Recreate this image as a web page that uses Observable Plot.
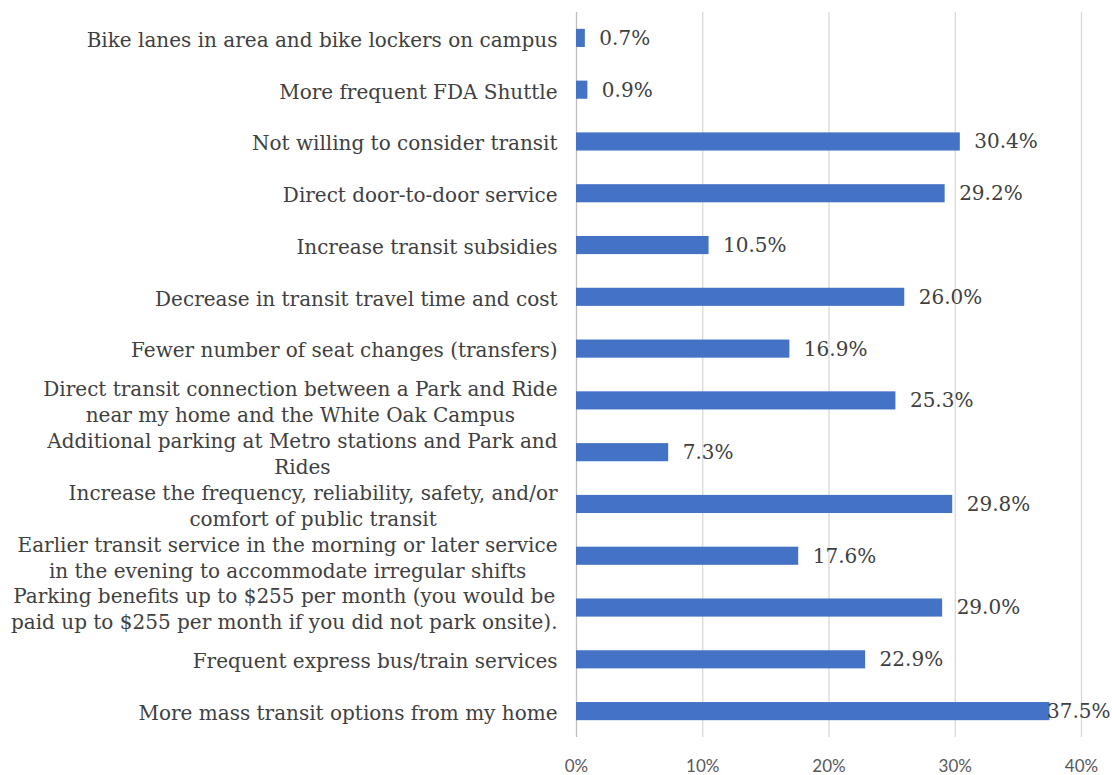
<!DOCTYPE html>
<html>
<head>
<meta charset="utf-8">
<script src="https://cdn.jsdelivr.net/npm/d3@7"></script>
<script src="https://cdn.jsdelivr.net/npm/@observablehq/plot@0.6"></script>
<style>
  html, body { margin: 0; padding: 0; background: #fff; }
  #chart svg { display: block; }
</style>
</head>
<body>
<div id="chart"></div>
<script>
const categories = [
  "Bike lanes in area and bike lockers on campus",
  "More frequent FDA Shuttle",
  "Not willing to consider transit",
  "Direct door-to-door service",
  "Increase transit subsidies",
  "Decrease in transit travel time and cost",
  "Fewer number of seat changes (transfers)",
  "Direct transit connection between a Park and Ride\nnear my home and the White Oak Campus",
  "Additional parking at Metro stations and Park and\nRides",
  "Increase the frequency, reliability, safety, and/or\ncomfort of public transit",
  "Earlier transit service in the morning or later service\nin the evening to accommodate irregular shifts",
  "Parking benefits up to $255 per month (you would be\npaid up to $255 per month if you did not park onsite).",
  "Frequent express bus/train services",
  "More mass transit options from my home"
];
const values = [0.7, 0.9, 30.4, 29.2, 10.5, 26.0, 16.9, 25.3, 7.3, 29.8, 17.6, 29.0, 22.9, 37.5];
const xTicks = [0, 10, 20, 30, 40];

const data = categories.map((c, i) => ({c, v: values[i]}));

const labelFont = "DejaVu Serif";
const labelSize = 20;
const valueSize = 20;
const textColor = "#404040";

// measure label widths to center multi-line labels within a right-aligned block
const ctx = document.createElement("canvas").getContext("2d");
ctx.font = `${labelSize}px "${labelFont}"`;
const labelWidth = c => Math.max(...c.split("\n").map(s => ctx.measureText(s).width));

const labelMarks = data.map(d => Plot.text([d], {
  y: "c",
  text: "c",
  frameAnchor: "left",
  textAnchor: "middle",
  dx: -(19 + labelWidth(d.c) / 2),
  lineHeight: 1.3,
  fontFamily: labelFont,
  fontSize: labelSize,
  fill: textColor
}));

const chart = Plot.plot({
  width: 1112,
  height: 775,
  marginLeft: 576,
  marginRight: 31,
  marginTop: 12,
  marginBottom: 38,
  style: {background: "#fff"},
  x: {domain: [0, 40]},
  y: {domain: categories, paddingInner: 0.65, paddingOuter: 0.325, round: false, axis: null},
  marks: [
    Plot.gridX(xTicks.filter(t => t > 0), {stroke: "#d9d9d9", strokeOpacity: 1, strokeWidth: 1.3}),
    Plot.ruleX([0], {stroke: "#bfbfbf", strokeWidth: 1.3}),
    Plot.barX(data, {x: "v", y: "c", fill: "#4472C4"}),
    Plot.text(data.filter(d => d.v < 35), {
      x: "v", y: "c", text: d => d.v.toFixed(1) + "%",
      dx: 14, textAnchor: "start",
      fontFamily: labelFont, fontSize: valueSize, fill: textColor
    }),
    Plot.text(data.filter(d => d.v >= 35), {
      x: "v", y: "c", text: d => d.v.toFixed(1) + "%",
      dx: -3, textAnchor: "start",
      fontFamily: labelFont, fontSize: valueSize, fill: textColor
    }),
    Plot.axisX(xTicks, {
      tickSize: 0, tickPadding: 22,
      tickFormat: d => d + "%",
      fontFamily: "Lato", fontSize: 17, fill: "#595959", label: null
    }),
    ...labelMarks
  ]
});
document.getElementById("chart").appendChild(chart);
</script>
</body>
</html>
